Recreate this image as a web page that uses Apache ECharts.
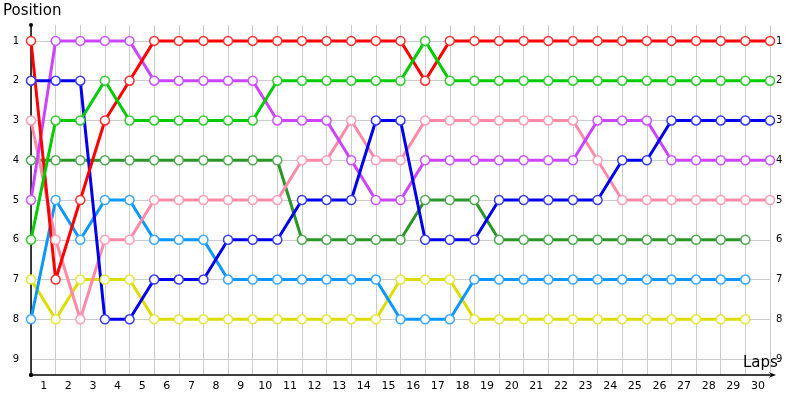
<!DOCTYPE html>
<html><head><meta charset="utf-8">
<script src="https://cdn.jsdelivr.net/npm/echarts@6/dist/echarts.min.js"></script>
<style>html,body{margin:0;padding:0;background:#fff}#c{width:800px;height:400px}</style>
</head><body><div id="c"></div>
<script>
var laps = [0,1,2,3,4,5,6,7,8,9,10,11,12,13,14,15,16,17,18,19,20,21,22,23,24,25,26,27,28,29,30];
var positions = [1,2,3,4,5,6,7,8,9];
var red = [1,7,5,3,2,1,1,1,1,1,1,1,1,1,1,1,2,1,1,1,1,1,1,1,1,1,1,1,1,1,1];
var green = [6,3,3,2,3,3,3,3,3,3,2,2,2,2,2,2,1,2,2,2,2,2,2,2,2,2,2,2,2,2,2];
var blue = [2,2,2,8,8,7,7,7,6,6,6,5,5,5,3,3,6,6,6,5,5,5,5,5,4,4,3,3,3,3,3];
var purple = [5,1,1,1,1,2,2,2,2,2,3,3,3,4,5,5,4,4,4,4,4,4,4,3,3,3,4,4,4,4,4];
var pink = [3,6,8,6,6,5,5,5,5,5,5,4,4,3,4,4,3,3,3,3,3,3,3,4,5,5,5,5,5,5,5];
var darkGreen = [4,4,4,4,4,4,4,4,4,4,4,6,6,6,6,6,5,5,5,6,6,6,6,6,6,6,6,6,6,6];
var lightBlue = [8,5,6,5,5,6,6,6,7,7,7,7,7,7,7,8,8,8,7,7,7,7,7,7,7,7,7,7,7,7];
var yellow = [7,8,7,7,7,8,8,8,8,8,8,8,8,8,8,7,7,7,8,8,8,8,8,8,8,8,8,8,8,8];

var seriesDefs = [
  {name:'Yellow', data:yellow, color:'#dddd00', border:'#e6e640'},
  {name:'LightBlue', data:lightBlue, color:'#0a98ff', border:'#3aa8ff'},
  {name:'DarkGreen', data:darkGreen, color:'#2a9628', border:'#50aa50'},
  {name:'Pink', data:pink, color:'#ff8aa8', border:'#ff9cb6'},
  {name:'Purple', data:purple, color:'#cc44ff', border:'#cc55ff'},
  {name:'Blue', data:blue, color:'#0000ee', border:'#3b3bf0'},
  {name:'Red', data:red, color:'#ff0000', border:'#ff3030'},
  {name:'Green', data:green, color:'#00cc00', border:'#33cc33'}
];

var font = 'DejaVu Sans';
var chart = echarts.init(document.getElementById('c'), null, {renderer:'canvas'});
chart.setOption({
  animation:false,
  backgroundColor:'#fff',
  grid:{left:31, right:30, top:25, bottom:25, containLabel:false},
  graphic:[
    {type:'text', left:3, top:4, style:{text:'Position', font:'15px "DejaVu Sans"', fill:'#000'}},
    {type:'text', left:743, top:356, z:10, style:{text:'Laps', font:'15px "DejaVu Sans"', fill:'#000'}}
  ],
  xAxis:{
    type:'value', min:0, max:30, interval:1,
    axisLine:{show:true, lineStyle:{color:'#000', width:1.5}, symbol:['circle','arrow'], symbolSize:[4,7], symbolOffset:[0,6]},
    axisTick:{show:false},
    axisLabel:{show:true, color:'#000', fontFamily:font, fontSize:11, margin:6, padding:[0,24,0,0],
      formatter:function(v){return v===0?'':String(v);}},
    splitLine:{show:true, lineStyle:{color:'#cccccc', width:1}}
  },
  yAxis:[{
    type:'value', min:0.6, max:9.4, inverse:true,
    axisLine:{show:true, lineStyle:{color:'#000', width:1.5}, symbol:['circle','circle'], symbolSize:[4,4]},
    axisTick:{show:false, customValues:positions},
    axisLabel:{show:true, color:'#000', fontFamily:font, fontSize:10, margin:12, customValues:positions},
    splitLine:{show:true, lineStyle:{color:'#cccccc', width:1}}
  },{
    type:'value', min:0.6, max:9.4, inverse:true, position:'right',
    axisLine:{show:false}, axisTick:{show:false, customValues:positions},
    axisLabel:{show:true, color:'#000', fontFamily:font, fontSize:10, margin:6, customValues:positions},
    splitLine:{show:false}
  }],
  series: seriesDefs.map(function(s){
    return {
      type:'line', name:s.name,
      data:s.data.map(function(v,i){return [laps[i], v];}),
      symbol:'circle', symbolSize:9, showSymbol:true,
      lineStyle:{color:s.color, width:3},
      itemStyle:{color:'#fff', borderColor:s.border, borderWidth:1.5},
      emphasis:{disabled:true}
    };
  })
});
</script></body></html>
